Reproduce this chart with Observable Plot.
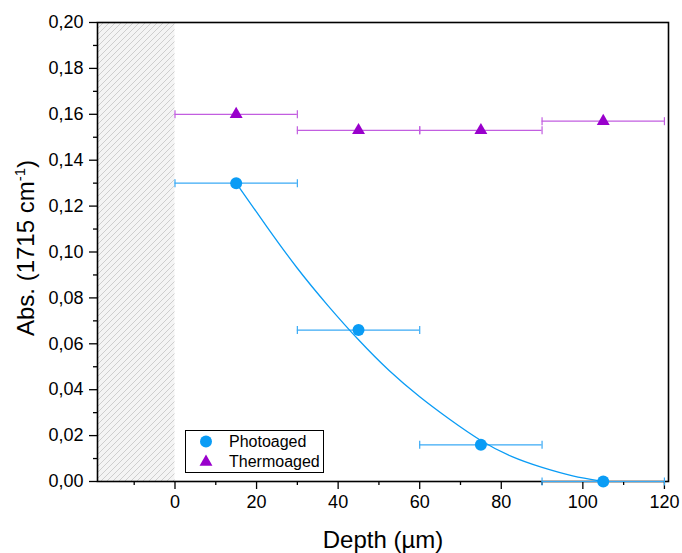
<!DOCTYPE html>
<html>
<head>
<meta charset="utf-8">
<script src="https://cdn.jsdelivr.net/npm/d3@7"></script>
<script src="https://cdn.jsdelivr.net/npm/@observablehq/plot@0.6"></script>
<style>
  html, body { margin: 0; padding: 0; background: #fff; }
  #chart { width: 682px; height: 553px; }
</style>
</head>
<body>
<div id="chart"></div>
<script>
// ---- data ----
const depth = [15, 45, 75, 105];
const depthErr = [15, 15, 15, 15];
const photoaged = [0.130, 0.066, 0.016, 0.000];
const thermoaged = [0.160, 0.153, 0.153, 0.157];

// fitted curve (Photoaged)
const fitX = [15, 22.5, 30, 37.5, 45, 52.5, 60, 67.5, 75, 82.5, 90, 97.5, 105];
const fitY = [0.1300, 0.1110, 0.0925, 0.0765, 0.0615, 0.0480, 0.0367, 0.0268, 0.0175, 0.0105, 0.0060, 0.0022, 0.0000];

const xDomain = [-19, 121];
const yDomain = [0, 0.20];
const xMajorTicks = [0, 20, 40, 60, 80, 100, 120];
const xMinorTicks = [-10, 10, 30, 50, 70, 90, 110];
const yMajorTicks = [0, 0.02, 0.04, 0.06, 0.08, 0.10, 0.12, 0.14, 0.16, 0.18, 0.20];
const yMinorTicks = [0.01, 0.03, 0.05, 0.07, 0.09, 0.11, 0.13, 0.15, 0.17, 0.19];
const hatchRegion = [{x1: xDomain[0], x2: 0, y1: yDomain[0], y2: yDomain[1]}];

const seriesNames = ["Photoaged", "Thermoaged"];
const xTitle = "Depth (µm)";

// ---- tables ----
const photoRows = depth.map((d, i) => ({x: d, y: photoaged[i], lo: d - depthErr[i], hi: d + depthErr[i]}));
const thermoRows = depth.map((d, i) => ({x: d, y: thermoaged[i], lo: d - depthErr[i], hi: d + depthErr[i]}));
const fitRows = fitX.map((d, i) => ({x: d, y: fitY[i]}));

const blue = "#0a9cf5", blueBar = "#3aaaf5";
const purple = "#9900cc", purpleBar = "#c25ee0";

const capSymbol = {
  draw(context, size) {
    const h = 4;
    context.moveTo(0, -h);
    context.lineTo(0, h);
  }
};

function errorMarks(rows, color) {
  return [
    Plot.ruleY(rows, {y: "y", x1: "lo", x2: "hi", stroke: color, strokeWidth: 1.2}),
    Plot.dot(rows, {x: "lo", y: "y", symbol: capSymbol, stroke: color, fill: "none", strokeWidth: 1.2}),
    Plot.dot(rows, {x: "hi", y: "y", symbol: capSymbol, stroke: color, fill: "none", strokeWidth: 1.2})
  ];
}

const fmt = d => d.toFixed(2).replace(".", ",");

const plot = Plot.plot({
  width: 682,
  height: 553,
  marginLeft: 97,
  marginRight: 14,
  marginTop: 22,
  marginBottom: 72,
  style: {fontFamily: "'Liberation Sans', Arial, sans-serif", color: "#000", background: "#fff"},
  x: {domain: xDomain},
  y: {domain: yDomain},
  marks: [
    Plot.rect(hatchRegion, {x1: "x1", x2: "x2", y1: "y1", y2: "y2", fill: "url(#hatch)"}),
    Plot.axisY({ticks: yMajorTicks, tickSize: 8, tickPadding: 6, tickFormat: fmt, fontSize: 18, label: null, strokeWidth: 1.3}),
    Plot.axisY({ticks: yMinorTicks, tickSize: 4, tickFormat: () => "", label: null, strokeWidth: 1.3}),
    Plot.axisX({ticks: xMajorTicks, tickSize: 8, tickPadding: 6, fontSize: 18, label: null, strokeWidth: 1.3}),
    Plot.axisX({ticks: xMinorTicks, tickSize: 4, tickFormat: () => "", label: null, strokeWidth: 1.3}),
    Plot.frame({stroke: "#000", strokeWidth: 1.6}),
    ...errorMarks(thermoRows, purpleBar),
    ...errorMarks(photoRows, blueBar),
    Plot.line(fitRows, {x: "x", y: "y", stroke: blue, strokeWidth: 1.3, curve: "basis"}),
    Plot.dot(photoRows, {x: "x", y: "y", r: 6, fill: blue, stroke: "none"}),
    Plot.dot(thermoRows, {x: "x", y: "y", r: 4.8, symbol: "triangle", fill: purple, stroke: "none"})
  ]
});

const svg = d3.select(plot);

// hatch pattern
const defs = svg.insert("defs", ":first-child");
const pat = defs.append("pattern")
  .attr("id", "hatch").attr("patternUnits", "userSpaceOnUse")
  .attr("width", 6).attr("height", 6);
pat.append("rect").attr("width", 6).attr("height", 6).attr("fill", "#f4f4f4");
pat.append("path").attr("d", "M-1,1 l2,-2 M0,6 l6,-6 M5,7 l2,-2")
  .attr("stroke", "#c2c2c2").attr("stroke-width", 0.75);

// axis titles
svg.append("text")
  .attr("x", 383).attr("y", 548)
  .attr("text-anchor", "middle")
  .attr("font-size", 24).attr("fill", "#000")
  .text(xTitle);

const yt = svg.append("text")
  .attr("transform", "translate(34,248) rotate(-90)")
  .attr("text-anchor", "middle")
  .attr("font-size", 24).attr("fill", "#000");
yt.append("tspan").text("Abs. (1715 cm");
yt.append("tspan").attr("font-size", 15).attr("dy", -9).text("-1");
yt.append("tspan").attr("dy", 9).text(")");

// legend
const lg = svg.append("g").attr("font-size", 16).attr("fill", "#000").attr("text-anchor", "start");
lg.append("rect").attr("x", 185.5).attr("y", 430.5).attr("width", 138).attr("height", 42)
  .attr("fill", "#fff").attr("stroke", "#000").attr("stroke-width", 1);
lg.append("circle").attr("cx", 206).attr("cy", 441.5).attr("r", 6).attr("fill", blue);
lg.append("path").attr("d", d3.symbol(d3.symbolTriangle, 4.8 * 4.8 * Math.PI)()).attr("transform", "translate(206,462)").attr("fill", purple);
lg.append("text").attr("x", 229).attr("y", 447).attr("text-anchor", "start").text(seriesNames[0]);
lg.append("text").attr("x", 229).attr("y", 467).attr("text-anchor", "start").text(seriesNames[1]);

document.getElementById("chart").appendChild(plot);
</script>
</body>
</html>
